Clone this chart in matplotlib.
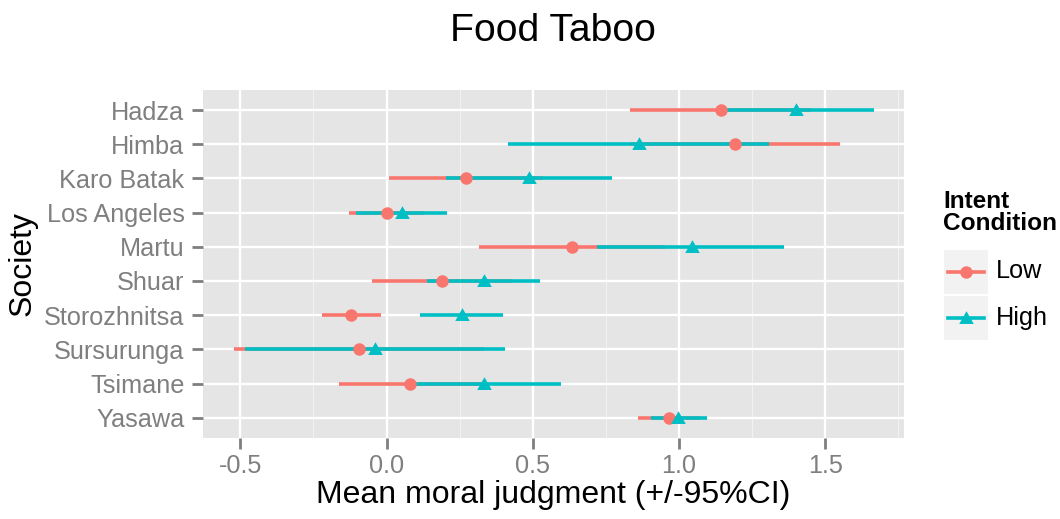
import numpy as np
import matplotlib
matplotlib.use("Agg")
import matplotlib.pyplot as plt
from matplotlib.lines import Line2D
from matplotlib.patches import Rectangle

plt.rcParams['font.family'] = ['Liberation Sans', 'DejaVu Sans']

# data
societies = ["Hadza", "Himba", "Karo Batak", "Los Angeles", "Martu", "Shuar",
             "Storozhnitsa", "Sursurunga", "Tsimane", "Yasawa"]
low_mean = [1.142, 1.192, 0.271, 0.000, 0.633, 0.190, -0.123, -0.093, 0.082, 0.966]
low_lo = [0.833, 0.833, 0.008, -0.128, 0.315, -0.049, -0.220, -0.520, -0.164, 0.860]
low_hi = [1.451, 1.551, 0.534, 0.128, 0.951, 0.429, -0.019, 0.334, 0.328, 1.072]
high_mean = [1.400, 0.862, 0.488, 0.052, 1.043, 0.334, 0.257, -0.038, 0.334, 0.998]
high_lo = [1.137, 0.417, 0.205, -0.104, 0.721, 0.140, 0.113, -0.485, 0.072, 0.904]
high_hi = [1.668, 1.306, 0.770, 0.208, 1.358, 0.525, 0.399, 0.406, 0.596, 1.095]
x_ticks = [-0.5, 0.0, 0.5, 1.0, 1.5]
x_minor = [-0.25, 0.25, 0.75, 1.25, 1.75]
conditions = ["Low", "High"]

RED = "#F8766D"
TEAL = "#00BFC4"
GREY = "#7F7F7F"

W, H = 1060, 519
fig = plt.figure(figsize=(W / 100, H / 100), dpi=100)


def fx(px):
    return px / W


def fy(py):
    return 1 - py / H


ax = fig.add_axes([fx(202.5), fy(438.3), fx(904) - fx(202.5), fy(89.5) - fy(438.3)])
ax.set_facecolor("#E5E5E5")
for s in ax.spines.values():
    s.set_visible(False)

ypos = np.arange(len(societies), 0, -1)

# triangle like ggplot pch 17
tri = [(-1, -0.75), (1, -0.75), (0, 1), (-1, -0.75)]

series = [
    (low_mean, low_lo, low_hi, RED, "o", 9),
    (high_mean, high_lo, high_hi, TEAL, tri, 10.5),
]
# all ranges first, then the points on top
for mean, lo, hi, col, mk, ms in series:
    ax.hlines(ypos, lo, hi, color=col, lw=2.6, zorder=3)
for mean, lo, hi, col, mk, ms in series:
    ax.plot(mean, ypos, linestyle="none", marker=mk, ms=ms, color=col,
            markeredgewidth=0, zorder=4)

ax.set_xlim(-0.629, 1.769)
ax.set_ylim(0.4, len(societies) + 0.6)
ax.set_xticks(x_ticks)
ax.set_xticklabels([f"{v:.1f}" for v in x_ticks])
ax.set_xticks(x_minor, minor=True)
ax.set_yticks(ypos)
ax.set_yticklabels(societies)

ax.grid(True, which="major", color="white", lw=1.7, zorder=1)
ax.grid(True, which="minor", axis="x", color="#F2F2F2", lw=0.8, zorder=1)
ax.set_axisbelow(True)
ax.tick_params(which="major", length=8, width=2, color=GREY, labelcolor=GREY,
               labelsize=18.2)
ax.tick_params(axis="x", pad=3)
ax.tick_params(axis="y", pad=5)
ax.tick_params(which="minor", length=0)

ax.set_xlabel("Mean moral judgment (+/-95%CI)", fontsize=23, labelpad=2)
ax.set_ylabel("Society", fontsize=23, labelpad=5)
ax.set_title("Food Taboo", fontsize=28.2, pad=35)

# legend drawn by hand
fig.text(fx(943), fy(190), "Intent\nCondition", fontsize=17.6, fontweight="bold",
         ha="left", va="top", linespacing=0.95)
key_tops = [249.5, 296]
key_markers = [("o", 9), (tri, 10.5)]
for i, (lab, col) in enumerate(zip(conditions, [RED, TEAL])):
    top = key_tops[i]
    fig.add_artist(Rectangle((fx(944), fy(top + 44)), fx(44), 44 / H,
                             transform=fig.transFigure, facecolor="#F2F2F2",
                             edgecolor="none"))
    cy = fy(top + 22)
    fig.add_artist(Line2D([fx(948), fx(984)], [cy, cy], color=col, lw=2.6,
                          transform=fig.transFigure))
    mk, ms = key_markers[i]
    fig.add_artist(Line2D([fx(966)], [cy], marker=mk, ms=ms, color=col,
                          markeredgewidth=0, transform=fig.transFigure))
    fig.text(fx(996), cy, lab, fontsize=18.2, ha="left", va="center")

fig.savefig("out.png", dpi=100)
